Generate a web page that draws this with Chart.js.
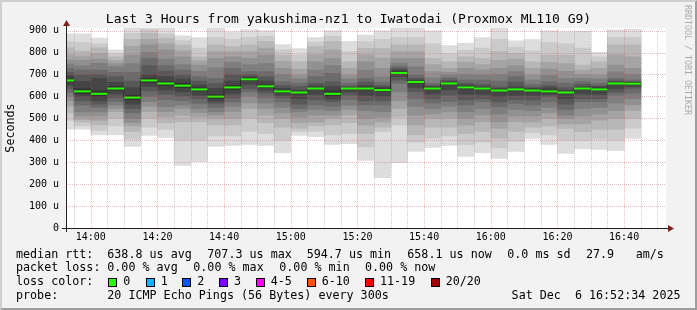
<!DOCTYPE html>
<html><head><meta charset="utf-8">
<script src="https://cdn.jsdelivr.net/npm/chart.js@4/dist/chart.umd.min.js"></script>
<style>
html,body{margin:0;padding:0;background:#f2f2f2;}
#wrap{position:relative;width:697px;height:310px;overflow:hidden;font-family:"DejaVu Sans Mono",monospace;color:#000;}
#c{position:absolute;left:0;top:0;}
#title{position:absolute;left:0;top:11px;width:697px;text-align:center;font-size:13px;line-height:16px;white-space:pre;}
.t{position:absolute;font-size:11.7px;line-height:14px;white-space:pre;}
.box{position:absolute;width:7px;height:7px;border:1px solid #000;top:278px;}
#wm{position:absolute;left:683px;top:5px;writing-mode:vertical-rl;font-size:8.3px;line-height:10px;color:#aaaaaa;white-space:pre;}
#frame{position:absolute;left:0;top:0;width:697px;height:310px;box-sizing:border-box;border-style:solid;border-width:2px;border-color:#cfcfcf #9e9e9e #9e9e9e #cfcfcf;pointer-events:none;}
</style></head>
<body>
<div id="wrap">
<canvas id="c" width="697" height="310"></canvas>
<div id="title">Last 3 Hours from yakushima-nz1 to Iwatodai (Proxmox ML110 G9)</div>
<div id="wm">RRDTOOL / TOBI OETIKER</div>
<div id="legend"></div>
<div id="frame"></div>
</div>
<script>
// ---- time window & steps ----
const windowStart = "13:52:34";
const windowEnd = "16:52:34";
const stepMinutes = 5;
const stepStarts = ["13:50","13:55","14:00","14:05","14:10","14:15","14:20","14:25","14:30","14:35","14:40","14:45","14:50","14:55","15:00","15:05","15:10","15:15","15:20","15:25","15:30","15:35","15:40","15:45","15:50","15:55","16:00","16:05","16:10","16:15","16:20","16:25","16:30","16:35","16:40"];

// ---- median RTT per step (microseconds) ----
const medianRtt = [673,623,612,636,594.7,673,659,649,632,599,641,678,646,623,618,636,612,636,636,629,707.3,666,636,659,641,636,627,632,627,623,618,636,632,659,658.1];

// ---- the 20 sorted ping RTTs of each step (microseconds) ----
const s00 = [451,490,525,555,580,600,618,636,652,667,680,695,710,728,748,766,790,822,850,885];
const s01 = [451,465,484,495,510,530,560,580,600,612,635,668,700,720,740,766,785,807,845,885];
const s02 = [424,445,470,490,510,530,550,565,580,600,625,682,700,720,751,770,795,822,840,866];
const s03 = [424,465,500,530,545,560,576,595,612,628,645,665,690,710,736,750,765,781,795,812];
const s04 = [372,405,440,465,480,500,525,545,565,585,605,640,670,710,750,789,830,860,888,935];
const s05 = [422,460,500,530,555,576,600,625,645,664,682,700,740,774,800,835,860,888,905,940];
const s06 = [413,450,480,507,530,553,585,610,630,650,667,690,715,740,770,812,840,865,885,911];
const s07 = [285,400,484,515,545,560,580,600,620,640,660,680,698,720,745,781,808,835,855,876];
const s08 = [302,400,484,505,525,545,568,590,605,625,640,652,670,690,715,743,762,781,820,868];
const s09 = [372,420,470,500,515,530,550,568,578,590,608,637,660,682,730,774,805,835,870,911];
const s10 = [376,420,469,500,530,555,575,595,614,632,650,670,700,728,755,781,805,827,860,895];
const s11 = [381,440,500,545,570,600,621,635,655,672,684,690,700,713,745,774,805,835,870,905];
const s12 = [376,430,480,515,545,570,595,615,628,640,652,670,690,713,750,789,820,850,875,900];
const s13 = [344,400,460,500,525,550,575,595,605,617,629,638,650,667,700,728,760,789,812,836];
const s14 = [422,440,454,480,505,530,545,565,590,612,622,629,645,660,680,698,725,758,790,818];
const s15 = [417,440,465,484,515,540,561,585,610,632,640,648,660,690,720,758,790,827,848,868];
const s16 = [381,425,470,500,515,535,555,576,588,600,625,645,667,705,740,774,812,850,875,900];
const s17 = [385,430,480,515,540,560,585,606,620,632,638,642,648,660,680,698,728,758,805,851];
const s18 = [308,370,430,469,500,535,561,580,605,630,641,650,665,682,720,758,790,819,850,880];
const s19 = [230,439,460,484,505,530,561,580,600,624,634,642,650,665,690,728,775,819,860,899];
const s20 = [298,469,505,545,580,620,660,675,690,706,714,720,728,738,752,774,805,835,870,925];
const s21 = [349,390,424,470,515,555,590,621,640,662,670,675,685,698,735,774,805,835,870,911];
const s22 = [367,410,460,500,520,545,570,591,612,632,640,645,650,660,685,713,745,774,840,899];
const s23 = [376,420,460,500,530,555,576,605,630,655,662,667,675,685,698,710,728,758,795,832];
const s24 = [326,380,430,469,500,530,561,585,610,636,646,652,660,675,700,728,755,781,810,842];
const s25 = [344,390,440,484,515,545,576,590,610,632,640,644,655,675,698,720,745,774,820,868];
const s26 = [317,365,410,454,485,520,553,575,600,623,631,636,644,670,700,728,765,804,860,915];
const s27 = [349,395,440,484,510,540,568,585,605,628,636,644,665,690,713,740,770,797,825,854];
const s28 = [408,435,460,484,510,535,560,583,605,623,631,637,642,655,675,698,728,758,808,859];
const s29 = [381,425,465,500,525,550,575,599,608,617,629,640,650,667,695,725,755,789,845,899];
const s30 = [340,400,454,475,500,515,540,565,590,615,621,628,640,660,682,715,750,789,840,895];
const s31 = [362,400,439,475,510,545,576,590,612,632,640,644,655,667,683,700,720,743,820,897];
const s32 = [358,405,450,492,520,550,576,590,610,628,638,644,648,660,680,698,728,758,780,801];
const s33 = [353,400,450,500,535,570,606,620,635,655,662,666,672,682,712,743,790,835,870,904];
const s34 = [408,455,500,535,561,590,615,637,646,655,662,664,668,675,700,728,780,835,870,906];
const stepPings = [s00,s01,s02,s03,s04,s05,s06,s07,s08,s09,s10,s11,s12,s13,s14,s15,s16,s17,s18,s19,s20,s21,s22,s23,s24,s25,s26,s27,s28,s29,s30,s31,s32,s33,s34];

// ---- axis ----
const yMax = 912;
const yTickStep = 50;
const yLabelStep = 100;
const xTickStep = 5;
const xLabelStep = 20;

// ---- legend texts ----
const legendRows = [
  [["median rtt:",16],["638.8 us avg",107.3],["707.3 us max",207.3],["594.7 us min",306.7],["658.1 us now",407.3],["0.0 ms sd",507.3],["27.9",586],["am/s",635.7]],
  [["packet loss:",16],["0.00 % avg",107.3],["0.00 % max",193.3],["0.00 % min",279.3],["0.00 % now",365]],
  [["loss color:",16]],
  [["probe:",16],["20 ICMP Echo Pings (56 Bytes) every 300s",107.3]]
];
const lossLabels = ["0","1","2","3","4-5","6-10","11-19","20/20"];
const lossColors = ["#26ff00","#00b8ff","#0059ff","#7e00ff","#ff00ff","#ff5500","#ff0000","#a00000"];
const lossBoxX = [108.3,145.7,182.3,219,255.7,306.7,365,430.7];
const stampText = "Sat Dec  6 16:52:34 2025";

// ---- build legend (html text) ----
const rowTops = [246.6,260.3,274,287.6];
const lg = document.getElementById('legend');
legendRows.forEach((row,r)=>row.forEach(([txt,x])=>{
  const d=document.createElement('div');d.className='t';d.textContent=txt;
  d.style.left=x+'px';d.style.top=rowTops[r]+'px';lg.appendChild(d);
}));
lossLabels.forEach((lab,i)=>{
  const b=document.createElement('div');b.className='box';b.style.left=lossBoxX[i]+'px';b.style.background=lossColors[i];lg.appendChild(b);
  const d=document.createElement('div');d.className='t';d.textContent=lab;d.style.left=(lossBoxX[i]+15)+'px';d.style.top=rowTops[2]+'px';lg.appendChild(d);
});
{const d=document.createElement('div');d.className='t';d.textContent=stampText;d.style.right=(697-680.5)+'px';d.style.top=rowTops[3]+'px';lg.appendChild(d);}

// ---- helpers ----
const toMin = s => { const p=s.split(':').map(Number); return p[0]*60+p[1]+(p[2]||0)/60; };
const fmt = v => { const h=Math.floor(v/60), m=Math.round(v%60); return String(h).padStart(2,'0')+':'+String(m).padStart(2,'0'); };
const centers = stepStarts.map(s => toMin(s) + stepMinutes/2);

const bandColors = ['#dddddd','#cacaca','#b7b7b7','#a4a4a4','#919191','#7e7e7e','#6b6b6b','#585858','#454545','#323232'];
const datasets = [];
for (let k=0;k<10;k++){
  datasets.push({
    type:'bar',
    data: centers.map((x,i)=>({x, y:[stepPings[i][k], stepPings[i][19-k]]})),
    backgroundColor: bandColors[k],
    borderWidth:0,
    grouped:false,
    barPercentage:1,
    categoryPercentage:1,
    order: 20-k,
    clip:0
  });
}
datasets.push({
  type:'line',
  data: centers.map((x,i)=>({x, y:medianRtt[i]})),
  stepped:'middle',
  borderColor:'#202020',
  borderWidth:1,
  pointRadius:0,
  order:2,
  clip:0
});
datasets.push({
  type:'line',
  data: centers.map((x,i)=>({x, y:medianRtt[i]})),
  showLine:false,
  pointStyle:'line',
  pointRadius: ctx => { const xs=ctx.chart.scales.x; return (xs.getPixelForValue(stepMinutes)-xs.getPixelForValue(0))/2; },
  pointBorderWidth:2,
  pointBorderColor:lossColors[0],
  pointBackgroundColor:lossColors[0],
  order:1,
  clip:0
});

const minorGrid='rgba(143,143,143,0.45)';
const majorGrid='rgba(222,79,79,0.4)';

// white plot canvas
const canvasPlugin = {
  id:'rrdCanvas',
  beforeDraw(chart){
    const {ctx, chartArea:a} = chart;
    ctx.save();
    ctx.fillStyle='#f2f2f2'; ctx.fillRect(0,0,chart.width,chart.height);
    ctx.fillStyle='#ffffff'; ctx.fillRect(a.left,a.top,a.right-a.left,a.bottom-a.top);
    ctx.restore();
  }
};

// dotted rrdtool-like grid, drawn over the smoke
const gridPlugin = {
  id:'rrdGrid',
  afterDatasetsDraw(chart){
    const {ctx, chartArea:a, scales:{x,y}} = chart;
    ctx.save();
    ctx.lineWidth=1;
    ctx.setLineDash([1,1]);
    x.ticks.forEach(t=>{
      const px=Math.round(x.getPixelForValue(t.value))+0.5;
      if (px<=a.left+1 || px>a.right) return;
      ctx.strokeStyle = Math.round(t.value)%xLabelStep===0 ? majorGrid : minorGrid;
      ctx.beginPath(); ctx.moveTo(px,a.bottom); ctx.lineTo(px,a.top); ctx.stroke();
    });
    y.ticks.forEach(t=>{
      if (t.value===0) return;
      const py=Math.round(y.getPixelForValue(t.value))+0.5;
      ctx.strokeStyle = t.value%yLabelStep===0 ? majorGrid : minorGrid;
      ctx.beginPath(); ctx.moveTo(a.left,py); ctx.lineTo(a.right,py); ctx.stroke();
    });
    ctx.restore();
  }
};

const axesPlugin = {
  id:'rrdAxes',
  afterDraw(chart){
    const {ctx, chartArea:a} = chart;
    ctx.save();
    ctx.strokeStyle='rgb(31,31,31)'; ctx.lineWidth=1;
    const yb=Math.round(a.bottom)+0.5, xl=Math.round(a.left)+0.5;
    ctx.beginPath(); ctx.moveTo(a.left-4,yb); ctx.lineTo(a.right+4,yb); ctx.stroke();
    ctx.beginPath(); ctx.moveTo(xl,a.bottom+4); ctx.lineTo(xl,a.top-4); ctx.stroke();
    ctx.fillStyle='rgb(128,31,31)';
    ctx.beginPath(); ctx.moveTo(a.right+2,yb-3.5); ctx.lineTo(a.right+2,yb+3.5); ctx.lineTo(a.right+8,yb); ctx.closePath(); ctx.fill();
    ctx.beginPath(); ctx.moveTo(xl-3.5,a.top-2); ctx.lineTo(xl+3.5,a.top-2); ctx.lineTo(xl,a.top-8); ctx.closePath(); ctx.fill();
    ctx.restore();
  }
};

new Chart(document.getElementById('c'), {
  type:'bar',
  data:{datasets},
  options:{
    responsive:false, animation:false, devicePixelRatio:1,
    events:[],
    layout:{padding:{left:0,right:31,top:28,bottom:62}},
    plugins:{legend:{display:false},tooltip:{enabled:false},title:{display:false}},
    scales:{
      x:{
        type:'linear', offset:false,
        min:toMin(windowStart), max:toMin(windowEnd),
        afterBuildTicks: s => { const t=[]; for(let v=Math.ceil(s.min/xTickStep)*xTickStep; v<=s.max; v+=xTickStep) t.push({value:v}); s.ticks=t; },
        afterFit: s => { s.height = 20; },
        ticks:{autoSkip:false,maxRotation:0,minRotation:0,padding:3,color:'#000',
          font:{family:'"DejaVu Sans Mono", monospace',size:10},
          callback: v => (Math.round(v)%xLabelStep===0 ? fmt(v) : '')},
        grid:{display:false, drawTicks:false},
        border:{display:false}
      },
      y:{
        type:'linear', min:0, max:yMax,
        afterBuildTicks: s => { const t=[]; for(let v=0; v<=s.max; v+=yTickStep) t.push({value:v}); s.ticks=t; },
        afterFit: s => { s.width = 66; },
        ticks:{padding:7,color:'#000',
          font:{family:'"DejaVu Sans Mono", monospace',size:10},
          callback: v => (v%yLabelStep===0 ? (v===0?'0':v+' u') : '')},
        grid:{display:false, drawTicks:false},
        border:{display:false},
        title:{display:true,text:'Seconds',color:'#000',padding:{top:4,bottom:0},
          font:{family:'"DejaVu Sans Mono", monospace',size:11.7}}
      }
    }
  },
  plugins:[canvasPlugin, gridPlugin, axesPlugin]
});
</script>
</body></html>
